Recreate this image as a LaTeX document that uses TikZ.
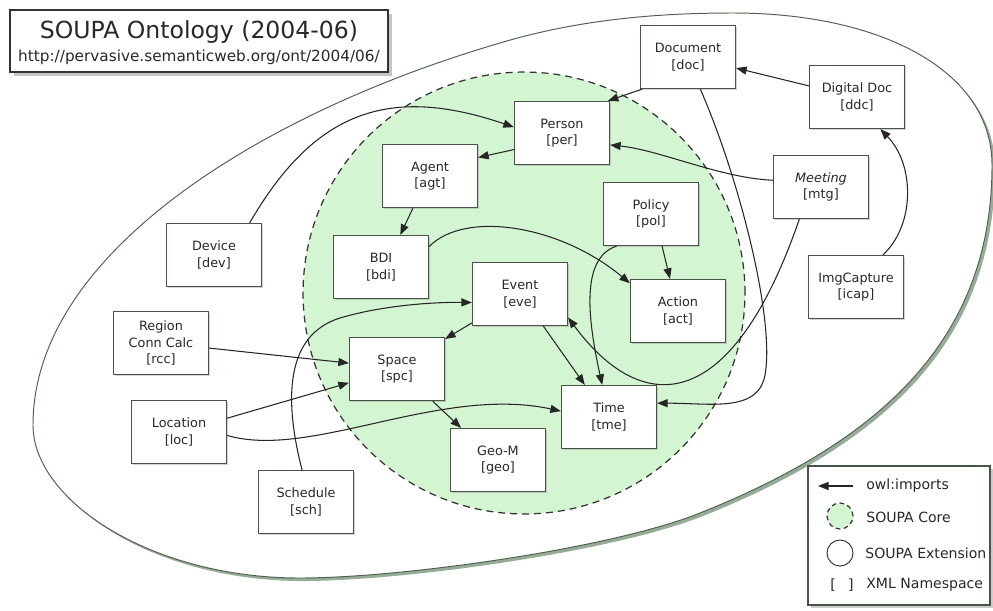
\documentclass[tikz,border=0pt]{standalone}
\usepackage{fontspec}
\setmainfont{DejaVu Sans}
\usepackage{tikz}
\usepackage{xcolor}
\definecolor{coregreen}{RGB}{212,245,210}
\definecolor{boxline}{RGB}{72,84,72}
\definecolor{extline}{RGB}{80,96,80}
\definecolor{extshade}{RGB}{150,172,150}
\definecolor{inkgray}{RGB}{40,40,40}
\usetikzlibrary{arrows.meta}
\usetikzlibrary{backgrounds}
\usetikzlibrary{shadows}
\tikzset{onto/.style={draw=boxline, fill=white, line width=0.7pt,
   minimum width=1.9cm, minimum height=1.26cm, align=center, inner sep=1pt,
   text=inkgray, font=\fontsize{7.3}{9.4}\selectfont,
   drop shadow={shadow xshift=0.7pt, shadow yshift=-0.7pt, opacity=0.35}},
 titlebox/.style={draw=black!80, fill=white, line width=0.8pt,
   minimum width=7.56cm, minimum height=1.24cm,
   drop shadow={shadow xshift=2.5pt, shadow yshift=-2.5pt, opacity=0.45}},
 legbox/.style={draw=boxline, fill=white, line width=0.8pt,
   minimum width=3.64cm, minimum height=2.78cm,
   drop shadow={shadow xshift=1.5pt, shadow yshift=-1.5pt, opacity=0.4}},
 imp/.style={draw=black!85, line width=0.6pt, -{Triangle[length=6pt, width=4.6pt]}},
 core/.style={draw=black!80, fill=coregreen, line width=0.7pt, dash pattern=on 4pt off 2.8pt},
 ext/.style={draw=extline, fill=white, line width=0.55pt},
 legtext/.style={anchor=west, text=inkgray, font=\fontsize{8}{9.6}\selectfont, inner sep=0pt},
 }

\begin{document}
\begin{tikzpicture}[x=0.02cm, y=-0.02cm]
        \useasboundingbox (0, 0) rectangle (993, 610);
        \node [titlebox] (title) at (199, 41) {};
        \node [text=inkgray, font=\fontsize{13.4}{15}\selectfont] (name) at (199, 32) {SOUPA Ontology (2004-06)};
        \node [text=inkgray, font=\fontsize{8.7}{10}\selectfont] (url) at (199, 57) {http://pervasive.semanticweb.org/ont/2004/06/};
        \node [onto] (doc) at (688, 57) {Document\\{[doc]}};
        \node [onto] (ddc) at (857, 97) {Digital Doc\\{[ddc]}};
        \node [onto] (per) at (562, 133) {Person\\{[per]}};
        \node [onto] (agt) at (430, 176) {Agent\\{[agt]}};
        \node [onto] (mtg) at (821, 187) {\textit{Meeting}\\{[mtg]}};
        \node [onto] (pol) at (651, 214) {Policy\\{[pol]}};
        \node [onto] (dev) at (214, 255) {Device\\{[dev]}};
        \node [onto] (bdi) at (381, 267) {BDI\\{[bdi]}};
        \node [onto] (icap) at (856, 287) {ImgCapture\\{[icap]}};
        \node [onto] (eve) at (520, 294) {Event\\{[eve]}};
        \node [onto] (act) at (678, 311) {Action\\{[act]}};
        \node [onto] (rcc) at (161, 343) {Region\\Conn Calc\\{[rcc]}};
        \node [onto] (spc) at (397, 369) {Space\\{[spc]}};
        \node [onto] (loc) at (179, 432) {Location\\{[loc]}};
        \node [onto] (tme) at (609, 417) {Time\\{[tme]}};
        \node [onto] (geo) at (498, 460) {Geo-M\\{[geo]}};
        \node [onto] (sch) at (306, 502) {Schedule\\{[sch]}};
        \draw [imp] (dev.42) .. controls (315, 110) and (390, 85) .. (per.173);
        \draw [imp] (per.199) -- (agt.21);
        \draw [imp] (agt.242) -- (bdi.59);
        \draw [imp] (bdi.23) .. controls (465, 210) and (560, 225) .. (act.150);
        \draw [imp] (pol.-71) -- (act.104);
        \draw [imp] (pol.223) .. controls (580, 258) and (588, 320) .. (tme.102);
        \draw [imp] (eve.-54) -- (tme.127);
        \draw [imp] (eve.211) -- (spc.32);
        \draw [imp] (spc.-42) -- (geo.139);
        \draw [imp] (loc.-4) .. controls (310, 460) and (440, 385) .. (tme.173);
        \draw [imp] (loc.16) -- (spc.196);
        \draw [imp] (rcc.-6) -- (spc.173);
        \draw [imp] (sch.97) .. controls (284, 400) and (285, 335) .. (340, 318) .. controls (380, 306) and (430, 302) .. (eve.190);
        \draw [imp] (mtg.172) .. controls (720, 178) and (660, 150) .. (per.-14);
        \draw [imp] (mtg.236) .. controls (730, 420) and (640, 415) .. (eve.-26);
        \draw [imp] (doc.-69) .. controls (740, 180) and (775, 320) .. (765, 375) .. controls (758, 413) and (710, 403) .. (tme.16);
        \draw [imp] (doc.215) -- (per.35);
        \draw [imp] (ddc.167) -- (doc.-13);
        \draw [imp] (icap.50) .. controls (915, 225) and (915, 165) .. (ddc.-54);
        \node [legbox] (legend) at (899, 535.5) {};
        \coordinate (lega) at (853, 486);
        \coordinate (legb) at (818, 486);
        \draw [imp] (lega) -- (legb);
        \node [core, circle, minimum size=0.52cm, inner sep=0pt, dash pattern=on 2.6pt off 2pt] (legcore) at (840, 516) {};
        \node [ext, circle, draw=black!80, minimum size=0.52cm, inner sep=0pt] (legext) at (840, 553) {};
        \node [legtext, anchor=center] (legns) at (842, 585) {[\hspace{7pt}]};
        \node [legtext] (limp) at (866, 486) {owl:imports};
        \node [legtext] (lcore) at (866, 517) {SOUPA Core};
        \node [legtext] (lext) at (865, 553) {SOUPA Extension};
        \node [legtext] (lns) at (866, 585) {XML Namespace};
        \begin{scope}[on background layer]
        \fill [white] (0, 0) rectangle (993, 610);
        \begin{scope}[shift={(3, 3)}]
        \fill [extshade] (33, 425) .. controls (33, 250) and (270, 110) .. (500, 43) .. controls (580, 19) and (660, 13) .. (733, 13) .. controls (880, 13) and (992, 70) .. (992, 165) .. controls (992, 340) and (880, 441) .. (700, 513) .. controls (610, 549) and (400, 578) .. (300, 578) .. controls (150, 578) and (33, 500) .. cycle;
        \end{scope}
        \draw [ext] (33, 425) .. controls (33, 250) and (270, 110) .. (500, 43) .. controls (580, 19) and (660, 13) .. (733, 13) .. controls (880, 13) and (992, 70) .. (992, 165) .. controls (992, 340) and (880, 441) .. (700, 513) .. controls (610, 549) and (400, 578) .. (300, 578) .. controls (150, 578) and (33, 500) .. cycle;
        \draw [core] (524, 293) circle (4.42cm);
        \end{scope}
    \end{tikzpicture}
\end{document}
